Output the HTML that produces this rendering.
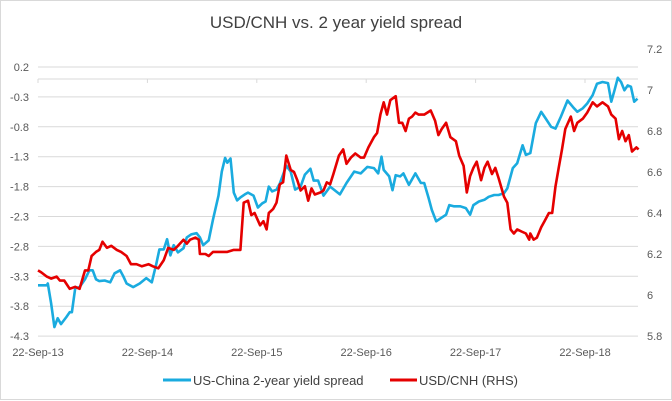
<!DOCTYPE html>
<html><head><meta charset="utf-8"><style>
body{margin:0;background:#fff;}
svg{display:block;font-family:"Liberation Sans",sans-serif;}
</style></head><body>
<svg id="chart" width="672" height="401" viewBox="0 0 672 401">
<rect x="0.5" y="0.5" width="671" height="399" fill="#fff" stroke="#d9d9d9"/>
<text x="336" y="28" text-anchor="middle" font-size="17" fill="#404040">USD/CNH vs. 2 year yield spread</text>
<g id="grid"></g><g id="axes"></g><g id="series"></g>
<g>
<line x1="163" y1="380" x2="191" y2="380" stroke="#1aabdf" stroke-width="3"/>
<text x="193" y="385" font-size="13" fill="#404040">US-China 2-year yield spread</text>
<line x1="390" y1="380" x2="417" y2="380" stroke="#e50000" stroke-width="3"/>
<text x="419" y="385" font-size="13" fill="#404040">USD/CNH (RHS)</text>
</g>
</svg>
<script>
const leftTicks=[0.2,-0.3,-0.8,-1.3,-1.8,-2.3,-2.8,-3.3,-3.8,-4.3];
const rightTicks=[7.2,7,6.8,6.6,6.4,6.2,6,5.8];
const dateLabels=["22-Sep-13","22-Sep-14","22-Sep-15","22-Sep-16","22-Sep-17","22-Sep-18"];
// time in years since 22-Sep-13
const spreadT=[0,.08,.09,.12,.15,.18,.21,.26,.29,.31,.34,.38,.43,.47,.50,.53,.56,.61,.66,.70,.75,.78,.81,.87,.93,.99,1.04,1.08,1.11,1.15,1.18,1.21,1.24,1.28,1.33,1.36,1.40,1.45,1.48,1.51,1.56,1.60,1.65,1.68,1.71,1.73,1.76,1.79,1.82,1.85,1.89,1.92,1.97,2.01,2.05,2.08,2.11,2.14,2.18,2.21,2.24,2.27,2.31,2.35,2.40,2.44,2.49,2.52,2.56,2.61,
2.67,2.76,2.82,2.89,2.95,3.01,3.07,3.11,3.14,3.16,3.21,3.24,3.27,3.31,3.34,3.39,3.45,3.50,3.53,3.57,3.60,3.64,3.68,3.73,3.76,3.80,3.86,3.91,3.95,3.98,4.03,4.08,4.12,4.17,4.21,4.26,4.29,4.34,4.38,4.43,4.46,4.50,4.55,4.60,4.64,4.69,4.73,4.78,4.84,4.89,4.93,4.98,5.02,5.07,5.11,5.16,5.21,5.24,5.27,5.30,5.33,5.36,5.39,5.42,5.45,5.48];
const spreadV=[-3.45,-3.45,-3.42,-3.75,-4.15,-4.0,-4.1,-3.98,-3.9,-3.9,-3.5,-3.48,-3.35,-3.2,-3.2,-3.35,-3.38,-3.37,-3.4,-3.25,-3.2,-3.3,-3.42,-3.48,-3.42,-3.33,-3.4,-3.1,-2.85,-2.85,-2.68,-2.95,-2.78,-2.9,-2.83,-2.65,-2.6,-2.58,-2.65,-2.78,-2.7,-2.35,-1.95,-1.55,-1.32,-1.4,-1.33,-1.9,-2.03,-1.98,-1.93,-1.9,-1.95,-2.15,-2.08,-2.05,-1.8,-1.88,-1.85,-1.75,-1.6,-1.45,-1.55,-1.85,-1.8,-1.6,-1.5,-1.7,-1.7,-1.95,
-1.80,-1.93,-1.74,-1.55,-1.58,-1.47,-1.49,-1.58,-1.30,-1.52,-1.63,-1.86,-1.61,-1.63,-1.58,-1.77,-1.58,-1.74,-1.74,-1.99,-2.19,-2.38,-2.33,-2.27,-2.11,-2.13,-2.13,-2.16,-2.27,-2.11,-2.05,-2.02,-1.97,-1.94,-1.94,-1.91,-1.83,-1.49,-1.41,-1.11,-1.27,-1.24,-0.74,-0.55,-0.66,-0.80,-0.83,-0.63,-0.36,-0.47,-0.55,-0.49,-0.41,-0.27,-0.08,-0.05,-0.07,-0.38,-0.19,0.02,-0.05,-0.19,-0.11,-0.13,-0.38,-0.33];
const cnhT=[0,.03,.08,.12,.17,.20,.24,.29,.34,.38,.43,.46,.49,.53,.56,.59,.63,.67,.72,.76,.81,.85,.90,.95,1.01,1.05,1.10,1.15,1.19,1.24,1.28,1.33,1.36,1.39,1.44,1.47,1.48,1.53,1.56,1.60,1.66,1.73,1.79,1.85,1.88,1.92,1.95,1.98,2.03,2.06,2.09,2.11,2.15,2.18,2.21,2.24,2.27,2.31,2.34,2.37,2.40,2.44,2.47,2.50,2.53,2.58,2.61,2.64,
2.67,2.70,2.75,2.79,2.82,2.86,2.90,2.95,2.98,3.02,3.07,3.10,3.13,3.16,3.19,3.22,3.27,3.30,3.33,3.36,3.39,3.42,3.45,3.48,3.53,3.59,3.63,3.66,3.69,3.73,3.77,3.82,3.85,3.89,3.92,3.95,3.98,4.01,4.05,4.08,4.11,4.15,4.18,4.21,4.26,4.29,4.32,4.35,4.38,4.42,4.46,4.49,4.50,4.53,4.56,4.60,4.63,4.67,4.70,4.73,4.76,4.79,4.82,4.87,4.90,4.93,4.98,5.02,5.07,5.11,5.16,5.21,5.24,5.28,5.31,5.34,5.37,5.40,5.43,5.47,5.49];
const cnhV=[6.12,6.11,6.09,6.08,6.09,6.07,6.07,6.03,6.04,6.03,6.12,6.12,6.19,6.21,6.22,6.26,6.23,6.24,6.22,6.21,6.19,6.15,6.15,6.14,6.15,6.14,6.13,6.17,6.23,6.22,6.24,6.27,6.25,6.27,6.28,6.27,6.20,6.20,6.19,6.21,6.21,6.21,6.22,6.22,6.45,6.46,6.39,6.40,6.34,6.36,6.32,6.40,6.42,6.45,6.54,6.55,6.68,6.61,6.60,6.56,6.51,6.53,6.46,6.52,6.49,6.50,6.51,6.55,
6.54,6.59,6.68,6.71,6.64,6.67,6.69,6.67,6.67,6.72,6.77,6.79,6.88,6.94,6.88,6.95,6.97,6.84,6.84,6.80,6.86,6.87,6.89,6.88,6.88,6.90,6.85,6.78,6.81,6.84,6.77,6.75,6.68,6.63,6.50,6.58,6.62,6.65,6.56,6.62,6.65,6.59,6.62,6.57,6.48,6.45,6.32,6.30,6.32,6.31,6.30,6.27,6.30,6.27,6.28,6.33,6.36,6.40,6.40,6.53,6.62,6.71,6.81,6.87,6.80,6.84,6.86,6.89,6.94,6.92,6.94,6.92,6.88,6.86,6.76,6.80,6.75,6.78,6.70,6.72,6.71];

const NS="http://www.w3.org/2000/svg";
const X0=38,XW=109.4;
const xS=t=>X0+t*XW;
const yL=v=>67+(0.2-v)/0.5*29.9;
const yR=v=>336-(v-5.8)/1.4*287;
function mk(tag,attrs,parent){const e=document.createElementNS(NS,tag);for(const k in attrs)e.setAttribute(k,attrs[k]);parent.appendChild(e);return e;}
const grid=document.getElementById('grid'),axes=document.getElementById('axes'),series=document.getElementById('series');
leftTicks.forEach(v=>{
  const l=mk('line',{x1:X0,x2:638,y1:yL(v),y2:yL(v),stroke:'#d9d9d9','stroke-width':1},grid);
  
  
  const t=mk('text',{x:29,y:yL(v)+4,'text-anchor':'end','font-size':11,fill:'#595959'},axes);
  t.textContent=String(v);
  
  
});
rightTicks.forEach(v=>{
  const t=mk('text',{x:647,y:yR(v)+4,'font-size':11,fill:'#595959'},axes);
  t.textContent=String(v);
  
  
});
const ax=mk('line',{x1:X0,x2:638,y1:yL(0),y2:yL(0),stroke:'#d9d9d9','stroke-width':1},axes);


dateLabels.forEach((s,i)=>{
  const tk=mk('line',{x1:xS(i),x2:xS(i),y1:yL(0),y2:yL(0)+4,stroke:'#d9d9d9'},axes);
  
  
  const t=mk('text',{x:xS(i),y:356,'text-anchor':'middle','font-size':11,fill:'#595959'},axes);
  t.textContent=s;
  
  
});
function path(ts,vs,ys){return ts.map((t,i)=>(i?'L':'M')+xS(t).toFixed(1)+','+ys(vs[i]).toFixed(1)).join('');}
const pb=mk('path',{d:path(spreadT,spreadV,yL),fill:'none',stroke:'#1aabdf','stroke-width':2.6,'stroke-linejoin':'round'},series);


const pr=mk('path',{d:path(cnhT,cnhV,yR),fill:'none',stroke:'#e50000','stroke-width':2.6,'stroke-linejoin':'round'},series);


</script>
</body></html>
